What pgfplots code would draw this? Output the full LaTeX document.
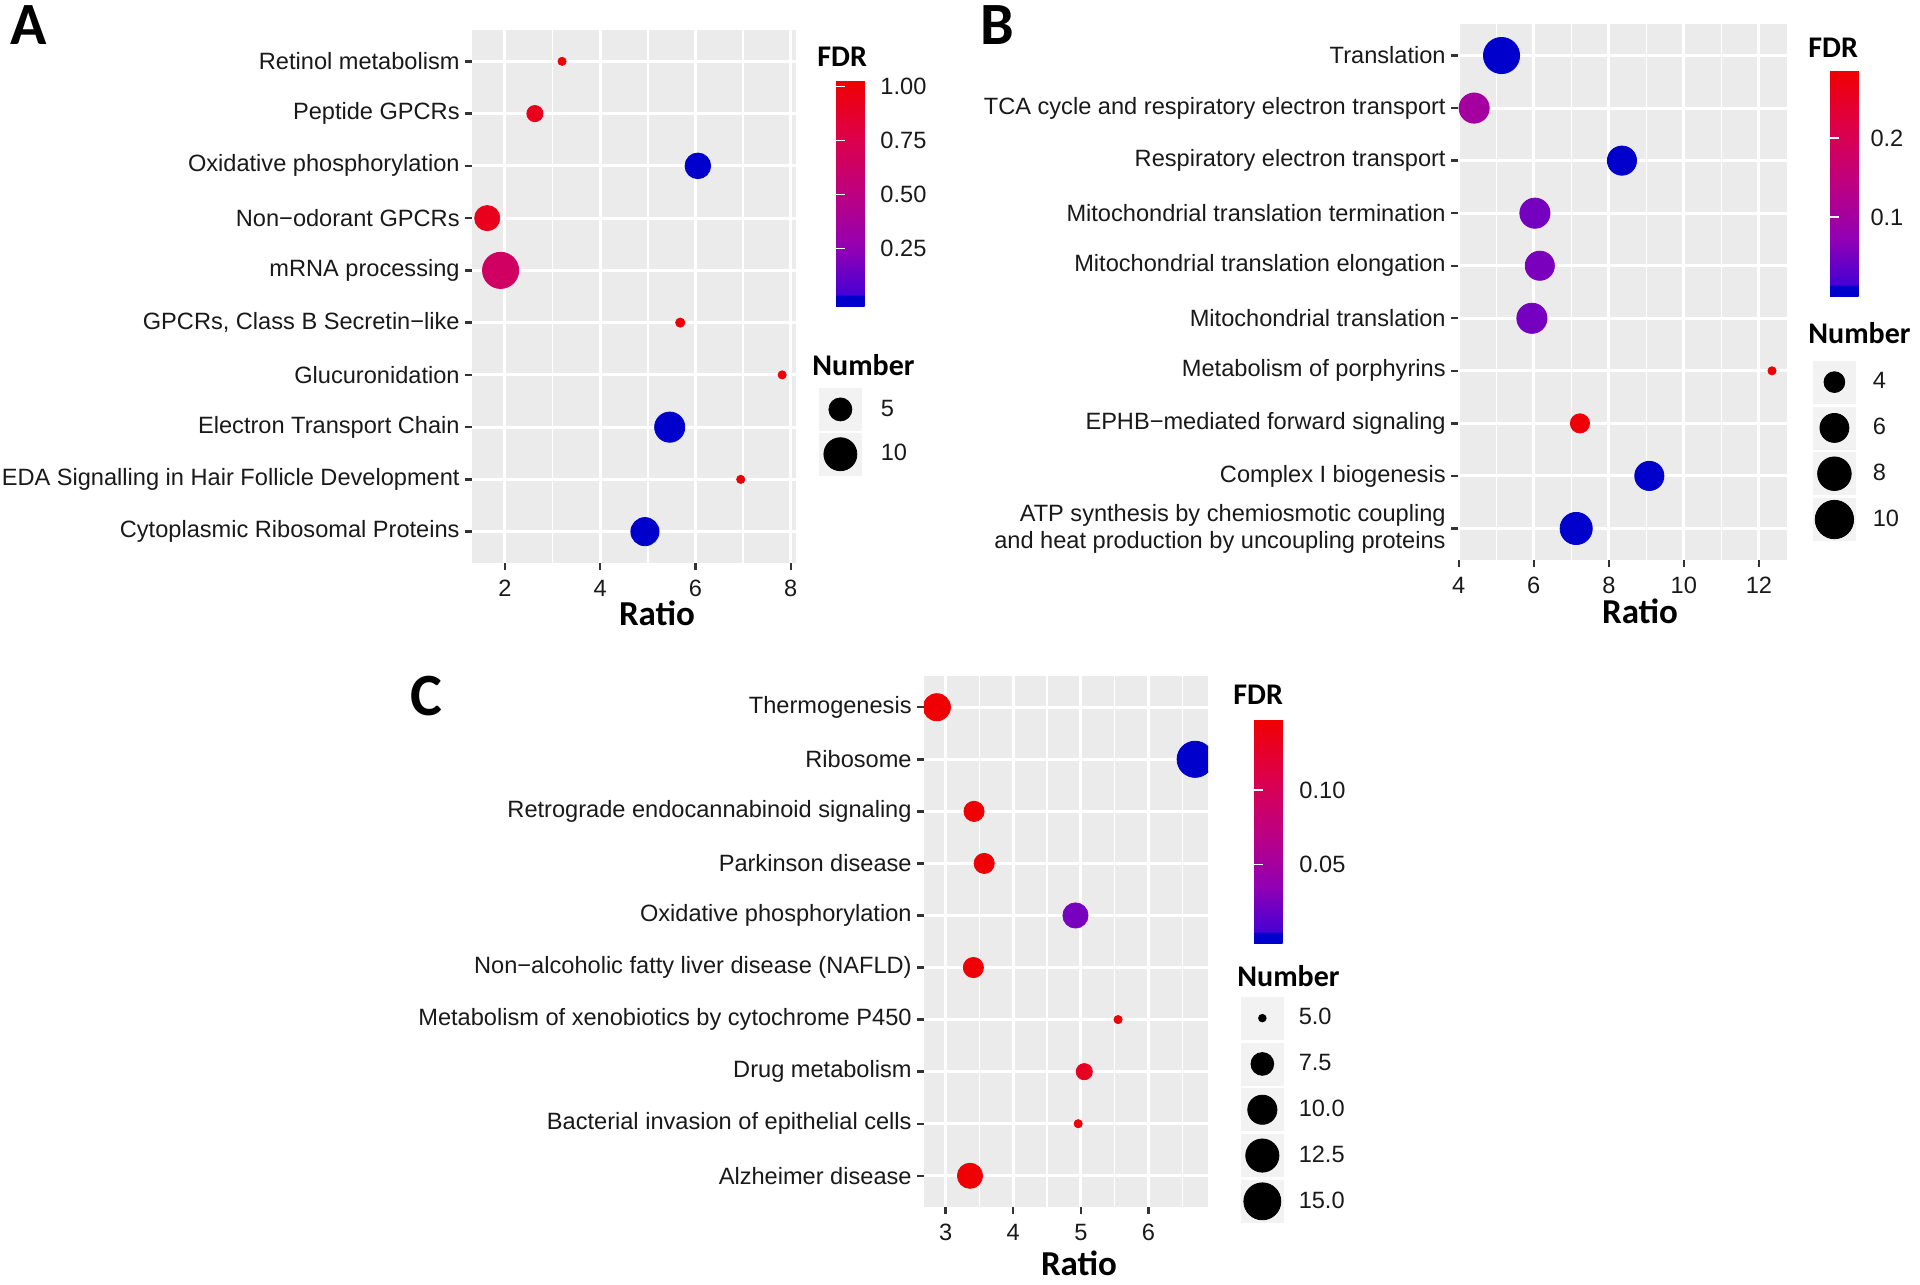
\documentclass[border=0pt]{standalone}
\usepackage{fontspec}
\setmainfont{Liberation Sans}
\newfontfamily\calib{Carlito}
\usepackage{pgfplots}
\pgfplotsset{compat=1.18}
\usepackage{pgfplotstable}
\definecolor{panelgray}{HTML}{EBEBEB}
\definecolor{keygray}{HTML}{F2F2F2}
\definecolor{tickgray}{HTML}{333333}
\newcommand\lab{\fontsize{11.8}{13.5}\selectfont}
\newcommand\ttl{\calib\bfseries\fontsize{15}{18}\selectfont}
\newcommand\rat{\calib\bfseries\fontsize{17.5}{20}\selectfont}
\newcommand\pan{\calib\bfseries\fontsize{30}{36}\selectfont}

% y = row (10 = top), x = Ratio, f = FDR, d = dot diameter (px)
\pgfplotstableread{
y x f d
10 3.20 1.00 9
9 2.63 0.93 17
8 6.05 0.02 26.5
7 1.63 0.93 26
6 1.91 0.65 37
5 5.68 1.00 10
4 7.82 1.00 9
3 5.46 0.00 31
2 6.95 1.00 9
1 4.94 0.00 29
}\dataA
\pgfplotstableread{
y x f d
10 5.14 0.000 37
9 4.41 0.100 31
8 8.35 0.005 30
7 6.03 0.050 31
6 6.16 0.055 30
5 5.95 0.050 31
4 12.35 0.280 9
3 7.23 0.280 20
2 9.08 0.003 30
1 7.13 0.003 33
}\dataB
\pgfplotstableread{
y x f d
10 2.87 0.145 28
9 6.69 0.000 37
8 3.42 0.145 21
7 3.57 0.145 21
6 4.92 0.025 26
5 3.41 0.145 21
4 5.55 0.145 9
3 5.05 0.130 17
2 4.96 0.145 9
1 3.36 0.145 26
}\dataC

\pgfplotsset{
 colormap={fdr}{
  rgb255(0cm)=(0,0,205);
  rgb255(0.45cm)=(0,0,205);
  rgb255(0.5cm)=(70,0,212);
  rgb255(2.5cm)=(145,0,180);
  rgb255(5cm)=(190,0,128);
  rgb255(7.5cm)=(222,0,72);
  rgb255(10cm)=(240,0,0)
 },
 gg/.style={
  scale only axis,
  axis background/.style={fill=panelgray},
  axis line style={draw=none},
  xmajorgrids, ymajorgrids, xminorgrids,
  major grid style={draw=white, line width=1.5pt},
  minor grid style={draw=white, line width=0.75pt},
  tick align=outside,
  tick pos=left,
  major tick length=3.5pt,
  minor tick length=0pt,
  tick style={draw=tickgray, line width=1.2pt},
  ymin=0.4, ymax=10.6, ytick={1,...,10},
  clip marker paths=true,
  colormap name=fdr,
  tick label style={font=\lab, text=black!90},
  /pgf/number format/assume math mode=true,
  yticklabel style={align=right, inner sep=0pt, anchor=east, xshift=-2.5pt},
  xticklabel style={inner sep=0pt, anchor=north, yshift=-5pt},
  legend cell align=left,
 },
 ggscatter/.style={scatter, only marks, mark=*, point meta=explicit, forget plot,
  visualization depends on={\thisrow{d} \as \dsize},
  scatter/use mapped color={draw=mapped color, fill=mapped color},
  scatter/@pre marker code/.append style={/tikz/mark size=0.25pt*\dsize-0.2pt, /tikz/line width=0.4pt}},
 cbar/.style={
  scale only axis,
  axis line style={draw=none},
  xmajorgrids=false, ymajorgrids=false, xminorgrids=false,
  tick align=inside, ytick pos=both, yticklabel pos=right,
  major tick length=4.5pt,
  tick style={draw=white, line width=0.8pt},
 },
 keyA/.style={legend image code/.code={\fill[keygray] (0pt,-10.5pt) rectangle (21pt,10.5pt); \fill[black] (10.5pt,0pt) circle (#1);}},
}

\begin{document}
\begin{tikzpicture}
\path[use as bounding box] (0,0) rectangle (960pt,-642pt);

% ---------------- Panel A ----------------
\begin{axis}[gg,
  at={(236pt,-281.5pt)}, anchor=south west,
  width=162pt, height=266.5pt,
  xmin=1.31, xmax=8.11,
  xtick={2,4,6,8}, minor xtick={3,5,7},
  yticklabels={Cytoplasmic Ribosomal Proteins, EDA Signalling in Hair Follicle Development, Electron Transport Chain, Glucuronidation, {GPCRs, Class B Secretin−like}, mRNA processing, Non−odorant GPCRs, Oxidative phosphorylation, Peptide GPCRs, Retinol metabolism},
  point meta min=-0.017, point meta max=1.031,
  colorbar,
  colorbar style={cbar,
    at={(parent axis.north east)}, anchor=north west, xshift=11.5pt, yshift=-25pt,
    width=23pt, height=113pt,
    ytick={0.25,0.5,0.75,1}, yticklabels={0.25,0.50,0.75,1.00},
    yticklabel style={font=\lab, text=black!90, anchor=west, inner sep=0pt, xshift=-1pt}},
  legend style={at={(1.071,0.3283)}, anchor=north west, draw=none, fill=none,
    inner sep=0pt, outer sep=0pt, font=\lab, text=black!90, row sep=1pt,
    nodes={inner sep=0pt}, /tikz/every odd column/.append style={column sep=9.5pt}},
]
\addplot[ggscatter] table[x=x, y=y, meta=f] {\dataA};
\addlegendimage{keyA=5.75pt}
\addlegendentry{5}
\addlegendimage{keyA=8.25pt}
\addlegendentry{10}
\end{axis}

% ---------------- Panel B ----------------
\begin{axis}[gg,
  at={(729pt,-280pt)}, anchor=south west,
  width=164.5pt, height=268pt,
  xmin=3.98, xmax=12.75,
  xtick={4,6,8,10,12}, minor xtick={5,7,9,11},
  yticklabels={{ATP synthesis by chemiosmotic coupling\\and heat production by uncoupling proteins}, Complex I biogenesis, EPHB−mediated forward signaling, Metabolism of porphyrins, Mitochondrial translation, Mitochondrial translation elongation, Mitochondrial translation termination, Respiratory electron transport, TCA cycle and respiratory electron transport, Translation},
  point meta min=0, point meta max=0.286,
  colorbar,
  colorbar style={cbar,
    at={(parent axis.north east)}, anchor=north west, xshift=13pt, yshift=-23pt,
    width=23pt, height=113pt,
    ytick={0.1,0.2}, yticklabels={0.1,0.2},
    yticklabel style={font=\lab, text=black!90, anchor=west, inner sep=0pt, xshift=-3pt}},
  legend style={at={(1.079,0.3718)}, anchor=north west, draw=none, fill=none,
    inner sep=0pt, outer sep=0pt, font=\lab, text=black!90, row sep=1.5pt,
    nodes={inner sep=0pt}, /tikz/every odd column/.append style={column sep=8.5pt}},
]
\addplot[ggscatter] table[x=x, y=y, meta=f] {\dataB};
\addlegendimage{keyA=5.2pt}
\addlegendentry{4}
\addlegendimage{keyA=7.25pt}
\addlegendentry{6}
\addlegendimage{keyA=8.4pt}
\addlegendentry{8}
\addlegendimage{keyA=9.6pt}
\addlegendentry{10}
\end{axis}

% ---------------- Panel C ----------------
\begin{axis}[gg,
  at={(462pt,-603.5pt)}, anchor=south west,
  width=142pt, height=265.5pt,
  xmin=2.68, xmax=6.88,
  xtick={3,4,5,6}, minor xtick={3.5,4.5,5.5,6.5},
  yticklabels={Alzheimer disease, Bacterial invasion of epithelial cells, Drug metabolism, Metabolism of xenobiotics by cytochrome P450, Non−alcoholic fatty liver disease (NAFLD), Oxidative phosphorylation, Parkinson disease, Retrograde endocannabinoid signaling, Ribosome, Thermogenesis},
  point meta min=-0.0025, point meta max=0.1475,
  colorbar,
  colorbar style={cbar,
    at={(parent axis.north east)}, anchor=north west, xshift=14.5pt, yshift=-21.5pt,
    width=22.5pt, height=112pt,
    ytick={0.05,0.1}, yticklabels={0.05,0.10},
    yticklabel style={font=\lab, text=black!90, anchor=west, inner sep=0pt, xshift=0pt}},
  legend style={at={(1.116,0.396)}, anchor=north west, draw=none, fill=none,
    inner sep=0pt, outer sep=0pt, font=\lab, text=black!90, row sep=1.5pt,
    nodes={inner sep=0pt}, /tikz/every odd column/.append style={column sep=7.5pt}},
]
\addplot[ggscatter] table[x=x, y=y, meta=f] {\dataC};
\addlegendimage{keyA=1.9pt}
\addlegendentry{5.0}
\addlegendimage{keyA=5.7pt}
\addlegendentry{7.5}
\addlegendimage{keyA=7.3pt}
\addlegendentry{10.0}
\addlegendimage{keyA=8.3pt}
\addlegendentry{12.5}
\addlegendimage{keyA=9.25pt}
\addlegendentry{15.0}
\end{axis}

% ---------------- titles ----------------
\node[anchor=base west, font=\pan, inner sep=0pt] at (5pt,-22.5pt) {A};
\node[anchor=base west, font=\pan, inner sep=0pt] at (490pt,-22.5pt) {B};
\node[anchor=base west, font=\pan, inner sep=0pt] at (205pt,-357.5pt) {C};
\node[anchor=base, font=\rat, inner sep=0pt] at (328.5pt,-312.5pt) {Ratio};
\node[anchor=base, font=\rat, inner sep=0pt] at (820pt,-311.5pt) {Ratio};
\node[anchor=base, font=\rat, inner sep=0pt] at (539.5pt,-637.5pt) {Ratio};
\node[anchor=west, font=\ttl, inner sep=0pt] at (408.5pt,-28.5pt) {FDR};
\node[anchor=west, font=\ttl, inner sep=0pt] at (904pt,-24pt) {FDR};
\node[anchor=west, font=\ttl, inner sep=0pt] at (616.5pt,-347.5pt) {FDR};
\node[anchor=west, font=\ttl, inner sep=0pt] at (406pt,-182.5pt) {Number};
\node[anchor=west, font=\ttl, inner sep=0pt] at (904pt,-166.5pt) {Number};
\node[anchor=west, font=\ttl, inner sep=0pt] at (618.5pt,-488pt) {Number};
\end{tikzpicture}
\end{document}
